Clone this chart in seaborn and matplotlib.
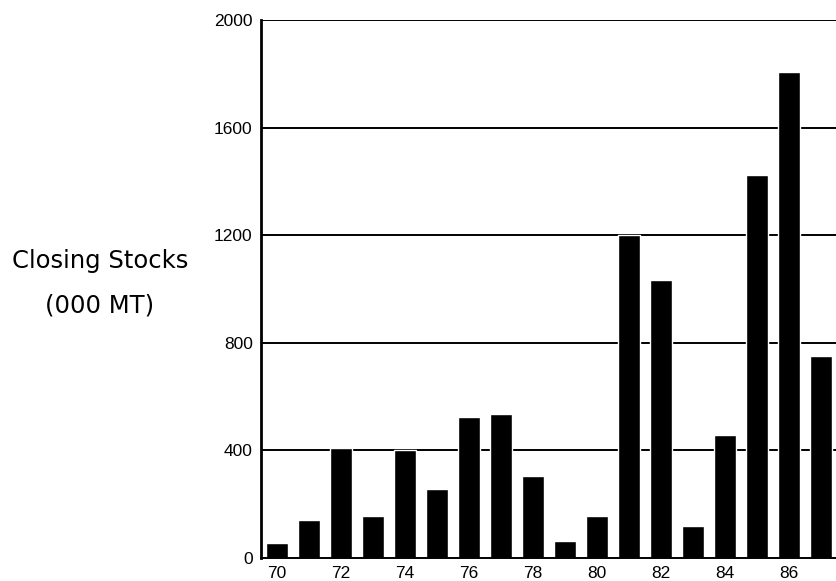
import numpy as np
import pandas as pd
import matplotlib
matplotlib.use("Agg")
import matplotlib.pyplot as plt
import seaborn as sns

# datos
years = [70, 71, 72, 73, 74, 75, 76, 77, 78, 79, 80, 81, 82, 83, 84, 85, 86, 87]
stocks = [55, 141, 408, 157, 401, 258, 524, 535, 306, 63, 157, 1199, 1032, 119, 458, 1422, 1808, 751]
ytick_vals = [0, 400, 800, 1200, 1600, 2000]
xtick_labels = ["70", "72", "74", "76", "78", "80", "82", "84", "86"]

sns.set_style("white")
plt.rcParams['font.family'] = ['Liberation Sans', 'DejaVu Sans']
plt.rcParams['text.color'] = 'black'
plt.rcParams['xtick.color'] = 'black'
plt.rcParams['ytick.color'] = 'black'

df = pd.DataFrame({"year": [str(y) for y in years], "stocks": stocks})

W, H = 837, 581
fig = plt.figure(figsize=(W / 100, H / 100), dpi=100)
ax = fig.add_axes([261 / W, (H - 558) / H, 576 / W, 538 / H])

### gridlines negras horizontales
for v in ytick_vals[1:]:
    ax.axhline(v, color="black", lw=1.4, zorder=0)

sns.barplot(data=df, x="year", y="stocks", color="black", width=0.68,
            saturation=1, ax=ax, zorder=2)

ax.set_ylim(0, 2000)
ax.set_xlim(-0.5, -0.5 + 576 / 32.3)
ax.set_yticks(ytick_vals)
ax.set_yticklabels([str(v) for v in ytick_vals], fontsize=12.5)
ax.tick_params(axis="y", direction="out", length=5, width=1.2, pad=1, color="black")

# ticks en los limites de cada categoria, etiquetas cada dos años
ax.set_xticks(np.arange(0.5, len(years), 1.0))
ax.set_xticklabels([])
ax.tick_params(axis="x", which="major", direction="inout", length=8, width=1.2, color="black")
ax.set_xticks(np.arange(0, len(years), 2), minor=True)
ax.set_xticklabels(xtick_labels, minor=True, fontsize=12.5)
ax.tick_params(axis="x", which="minor", length=0, pad=6)

ax.set_xlabel("")
ax.set_ylabel("")
for s in ["top", "right"]:
    ax.spines[s].set_visible(False)
ax.spines["left"].set_linewidth(2)
ax.spines["bottom"].set_linewidth(1.4)
ax.spines["left"].set_color("black")
ax.spines["bottom"].set_color("black")
ax.spines["left"].set_zorder(3)

fig.text(12 / W, 1 - 268 / H, "Closing Stocks", ha="left", va="baseline", fontsize=17.5,
         family=["DejaVu Sans"], color="black")
fig.text(45 / W, 1 - 312 / H, "(000 MT)", ha="left", va="baseline", fontsize=17.5,
         family=["DejaVu Sans"], color="black")

fig.savefig("out.png", dpi=100)
